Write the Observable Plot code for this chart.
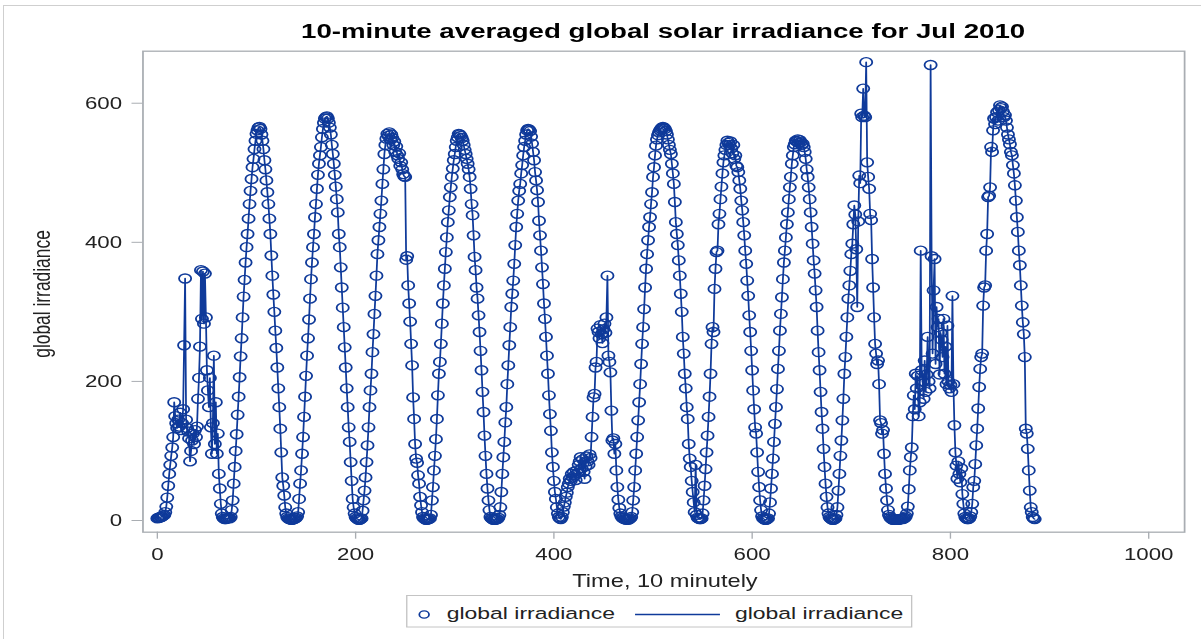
<!DOCTYPE html>
<html>
<head>
<meta charset="utf-8">
<script src="https://cdn.jsdelivr.net/npm/d3@7"></script>
<script src="https://cdn.jsdelivr.net/npm/@observablehq/plot@0.6"></script>
<style>
html, body { margin: 0; padding: 0; background: #fff; width: 1201px; height: 639px; overflow: hidden; }
#border { position: absolute; left: 3px; top: 5px; width: 1300px; height: 700px; border-top: 1px solid #cfcfcf; border-left: 1px solid #cfcfcf; }
#stage { position: absolute; left: 0; top: 0; width: 889.6px; height: 639px; transform: scaleX(1.35); transform-origin: 0 0; font-family: "Liberation Sans", Arial, sans-serif; }
#stage svg { position: absolute; left: 0; top: 0; }
</style>
</head>
<body>
<div id="border"></div>
<div id="stage"></div>
<script>
// ---- data: 10-minute averaged global irradiance, one array per day (consecutive samples) ----
const day1 = [3,4,4,5,5,6,7,8,
  12,20,33,50,67,80,93,105,120,
  170,150,140,133,145,135,155,130,140,160,252,348,145,133,128,118,85,100,115,125,110,130,120,135,
  175,205,250,360,290,358,283,355,292,216,187,163,205,134,96,140,237,110,170,96,
  125,67,46,24,10,5,3,2,2,3,3,4];
const day2 = [3,5,
  15,29,53,77,100,124,152,178,206,236,262,292,322,346,371,393,412,434,455,474,491,508,520,534,546,556,561,565,566,563,
  555,546,534,518,505,489,472,455,434,412,381,352,325,300,273,248,220,190,163,132,98,62,50,36,19,10,
  5,3,2,2,1,1,2,2,3,4,6];
const day3 = [12,31,53,72,96,120,149,178,208,237,262,289,319,347,371,393,412,436,455,477,497,513,525,537,551,563,572,578,580,581,578,
  572,565,555,540,527,513,497,480,462,443,412,393,364,335,306,278,249,220,190,163,134,113,84,57,31,19,10,
  5,3,2,1,1,2,3];
const day4 = [14,29,43,62,84,108,134,163,187,211,242,268,297,323,352,383,403,422,441,460,484,505,527,540,549,
  556,553,558,548,555,550,540,545,530,538,525,520,528,510,515,505,498,495,494,
  375,380,338,312,286,254,223,177,146,110,89,83,65,53,34,22,12,
  5,3,2,1,1,2,2,3];
const day5 = [8,
  29,48,72,93,117,146,180,211,228,254,283,312,338,362,386,407,429,446,465,479,494,506,518,527,537,546,551,556,555,553,
  550,546,540,533,527,520,513,505,494,477,455,439,410,379,360,335,319,295,271,244,216,185,156,122,93,67,46,29,15,
  5,3,2,1,1,1,2,2,4,8];
const day6 = [19,41,67,91,113,141,163,196,223,252,278,307,326,345,369,396,422,441,460,474,484,499,511,525,537,546,555,561,563,562,560,
  552,542,530,518,501,489,475,458,431,410,388,364,340,312,290,264,237,211,180,153,129,98,77,57,41,31,19,10,5];
const day7 = [3,2,5,12,20,26,34,40,48,53,
  60,57,67,62,70,65,58,72,68,80,
  85,91,75,88,70,60,78,92,85,80,
  95,90,120,149,177,182,220,228,276,271,
  262,281,268,255,275,283,270,292,352,237,
  228,213,158,115,118,96,110,72,48,30,
  18,10,6,4,3,2,2,1,2,1,
  2,3,5,12];
const day8 = [29,48,72,96,120,144,170,196,225,254,278,304,335,362,383,403,422,436,455,472,494,508,525,539,548,554,558,561,563,565,566,565,563,
  560,555,548,540,533,527,513,499,484,458,429,412,396,374,352,326,300,264,240,211,190,163,146,110,89,77,57,41,26,12,80,8,4];
const day9 = [3,2,2,3,10,
  29,50,74,98,122,149,178,211,254,278,271,333,362,386,388,426,441,462,480,499,515,525,533,540,546,
  543,540,545,535,528,540,520,525,510,508,501,489,477,460,446,429,410,388,369,345,323,295,271,244,216,187,160,134,125,98,70,48,29,15,6,3];
const day10 = [2,1,1,2,3,10,
  26,46,67,89,113,139,163,189,218,244,273,297,321,347,371,388,407,426,443,462,479,494,513,525,537,541,546,545,548,543,547,544,540,542,537,530,
  520,505,494,479,462,443,422,398,374,355,331,307,273,242,216,185,156,132,103,77,53,34,19,10,5,3];
const day11 = [2,1,1,2,3,8,
  19,43,67,93,115,144,175,211,235,264,
  292,319,338,359,383,398,426,453,440,390,
  307,430,496,485,585,580,621,582,580,659,
  515,494,477,441,432,376,335,292,254,240,
  225,230,196,144,140,125,130,96,67,46,
  29,15,8,5,3];
const day12 = [2,1,1,2,1,2,1,1,2,2,3,2,3,4,6,
  10,20,45,72,91,105,150,180,160,211,
  190,208,150,170,388,216,200,175,230,185,
  210,264,200,190,655,380,240,331,376,225,
  307,278,290,210,270,260,235,290,211,250,
  196,280,200,190,195,185,323,196,137,98,
  79,60,85,67,55,75,38,24,10,5];
const day13 = [3,2,2,3,6,12,
  24,48,57,81,108,132,161,192,218,235,240,309,335,338,388,412,465,467,479,537,530,561,578,570,580,587,575,590,
  597,593,595,588,580,583,575,565,555,548,541,530,525,511,499,482,460,436,415,388,367,338,309,285,268,235,132,125,103,72,43,19,12,5,3,2];

const xTicks = [0, 200, 400, 600, 800, 1000];
const yTicks = [0, 200, 400, 600];
const titleText = "10-minute averaged global solar irradiance for Jul 2010";
const xLabel = "Time, 10 minutely";
const yLabel = "global irradiance";
const seriesName = "global irradiance";

const values = [day1, day2, day3, day4, day5, day6, day7, day8, day9, day10, day11, day12, day13].flat();
const rows = values.map((v, t) => ({t, v}));

// ---- layout (unstretched coordinates; the whole stage is scaled 1.35x horizontally) ----
const W = 889.6, H = 639;
const BLUE = "#0f3a9a";
const GRID = "#a9adb2";
const mL = 105.4, mR = W - 877.0, mT = 50.7, mB = H - 531.7;

const chart = Plot.plot({
  width: W, height: H,
  marginLeft: mL, marginRight: mR, marginTop: mT, marginBottom: mB,
  style: {fontFamily: "'Liberation Sans', Arial, sans-serif", fontSize: "16.5px", color: "#222", background: "transparent", overflow: "visible"},
  x: {domain: [-14.5, 1036.2]},
  y: {domain: [-16.8, 674.8]},
  marks: [
    Plot.frame({stroke: GRID, strokeWidth: 1.3}),
    Plot.axisX({ticks: xTicks, tickSize: 7, tickPadding: 9, label: null, stroke: GRID, tickFormat: d3.format("d")}),
    Plot.axisY({ticks: yTicks, tickSize: 8, tickPadding: 7.5, label: null, stroke: GRID, tickFormat: d3.format("d")}),
    Plot.line(rows, {x: "t", y: "v", stroke: BLUE, strokeWidth: 1.3}),
    Plot.dot(rows, {x: "t", y: "v", r: 4.5, stroke: BLUE, strokeWidth: 1.35, fill: "none"})
  ]
});
const stage = document.getElementById("stage");
stage.appendChild(chart);

// ---- title, axis labels, legend ----
const svg = d3.select(stage).append("svg")
  .attr("width", W).attr("height", H)
  .style("font-family", "'Liberation Sans', Arial, sans-serif")
  .style("pointer-events", "none");

const cx = (mL + (W - mR)) / 2;
svg.append("text").attr("x", cx).attr("y", 38.5).attr("text-anchor", "middle")
  .attr("font-weight", "bold").attr("font-size", 20.5).attr("fill", "#000").text(titleText);

svg.append("text").attr("x", 492.6).attr("y", 587).attr("text-anchor", "middle")
  .attr("font-size", 17.5).attr("fill", "#222").text(xLabel);

svg.append("text").attr("transform", "translate(37,294) rotate(-90)").attr("text-anchor", "middle")
  .attr("font-size", 17.4).attr("fill", "#222").text(yLabel);

const lg = svg.append("g");
lg.append("rect").attr("x", 301.3).attr("y", 595.5).attr("width", 374).attr("height", 31.5)
  .attr("fill", "#fff").attr("stroke", "#c4c4c4");
lg.append("circle").attr("cx", 314.2).attr("cy", 614.5).attr("r", 3.6)
  .attr("fill", "none").attr("stroke", BLUE).attr("stroke-width", 1.3);
lg.append("text").attr("x", 330.9).attr("y", 619.5).attr("font-size", 17).attr("fill", "#222").text(seriesName);
lg.append("line").attr("x1", 470.4).attr("x2", 533.3).attr("y1", 614.5).attr("y2", 614.5)
  .attr("stroke", BLUE).attr("stroke-width", 1.3);
lg.append("text").attr("x", 544.4).attr("y", 619.5).attr("font-size", 17).attr("fill", "#222").text(seriesName);
</script>
</body>
</html>
